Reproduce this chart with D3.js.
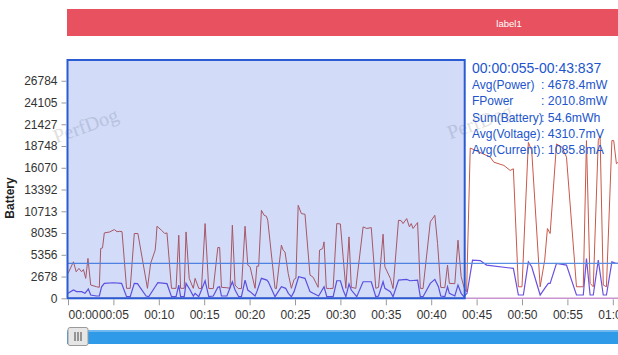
<!DOCTYPE html>
<html><head><meta charset="utf-8">
<script src="https://cdn.jsdelivr.net/npm/d3@7"></script>
<style>
html,body{margin:0;padding:0;background:#fff;}
svg{display:block;font-family:"Liberation Sans",Arial,Helvetica,sans-serif;}
</style></head>
<body>
<svg id="chart" width="618" height="355"></svg>
<script>
// ---- data ----
const yTickLabels = ["0","2678","5356","8035","10713","13392","16070","18748","21427","24105","26784"];
const yStep = 2678.4;
const yMax = 29462.4;
const xTickSeconds = [0,5,10,15,20,25,30,35,40,45,50,55,60];
const xTickLabels = ["00:00","00:05","00:10","00:15","00:20","00:25","00:30","00:35","00:40","00:45","00:50","00:55","01:00"];
const avgValue = 4310;

const powerTime = [0,0.6,0.9,1.2,1.5,1.7,1.95,2.2,2.5,3.15,3.45,3.6,3.8,4.0,4.6,5.1,5.4,5.7,5.95,6.45,6.85,7.3,7.7,8.75,9.1,9.6,9.7,9.8,10.3,10.65,10.9,11.4,11.9,12.2,12.4,12.8,13.0,13.35,13.8,14.0,14.4,14.7,15.1,15.5,16.0,16.5,16.7,16.9,17.5,17.85,18.1,18.4,18.75,19.1,19.5,19.8,20.05,20.6,20.8,21.0,21.3,21.6,21.85,22.0,22.8,22.95,23.5,23.7,23.9,24.25,24.6,24.9,25.1,25.35,25.7,26.1,26.65,27.0,27.55,27.7,28.05,28.2,28.45,28.8,29.2,29.6,30.0,30.3,30.6,30.95,31.2,31.7,32.5,32.9,33.4,33.9,34.2,34.7,34.9,35.5,35.8,36.4,36.7,36.9,37.3,37.6,37.8,38.0,38.5,38.8,39.1,39.9,40.4,40.7,41.05,41.5,41.8,42.0,42.6,42.95,43.3,43.65,43.9,44.3,44.9,46.5,46.9,48.0,48.7,49.05,49.6,50.0,50.7,51.07,52.0,52.5,52.8,53.1,53.8,54.4,54.9,56.0,56.75,57.1,57.5,57.85,58.4,58.6,58.95,59.3,59.9,60.1,60.4,60.8];
const powerValue = [3068,4490,3265,3680,3265,3550,2454,4908,1632,1423,1350,6135,6200,8050,8170,8466,8200,8250,8200,1227,1227,7975,7975,1227,4294,5926,7153,8870,8380,7975,8050,1227,1227,7767,1227,1227,8170,2454,1227,2454,1227,1200,9200,1200,1200,6258,6258,1350,1300,1227,9000,1632,1200,1200,8870,4086,3880,1227,3960,3960,10834,10220,10100,9607,1227,1200,6540,5926,5700,3068,1227,2330,2454,11450,10430,10350,2860,2590,1350,5926,6130,6950,1227,1200,1227,9200,9150,5100,1227,7560,1350,1227,8790,8600,8700,1227,1350,7890,3880,2454,1200,9607,9550,9200,9816,8800,9200,8600,9325,1227,1200,9400,10220,6750,1350,1300,4086,1840,1800,7153,2660,1227,800,18500,18200,17380,16760,16360,15740,15950,1420,1420,19200,18200,1420,4700,8590,7975,19000,18600,17380,1420,1420,19420,1840,1420,19420,20000,1630,1420,19420,19420,16560,17000];

const currentTime = [0,0.6,0.95,1.5,1.87,2.24,2.5,3.15,3.45,3.7,4.0,5.0,5.9,6.45,6.85,7.3,7.65,8.6,8.9,9.6,9.9,10.9,11.4,11.9,12.2,12.4,12.8,13.0,13.45,13.8,14.0,14.4,15.1,15.5,16.0,16.5,16.7,16.9,17.5,18.1,18.4,18.8,19.1,19.5,19.8,20.05,20.6,20.8,21.3,21.9,22.06,22.8,23.5,23.97,24.27,24.6,24.9,25.4,26.1,26.65,27.0,27.6,28.2,28.5,28.9,29.2,29.6,30.0,30.3,30.6,30.95,31.2,31.8,32.5,33.4,33.9,34.2,34.7,34.9,35.5,35.8,36.4,37.3,37.66,38.5,38.8,39.1,39.9,40.4,40.8,41.05,41.5,41.8,42.0,42.6,42.95,43.3,43.6,43.95,44.55,45.4,46.1,49.05,49.6,50.15,50.7,51.07,52.0,52.5,52.9,53.1,53.8,54.9,56.0,56.75,57.1,57.5,57.85,58.4,58.95,59.3,59.9,60.4,60.8];
const currentValue = [613,1018,818,818,613,1140,405,282,282,1420,1840,1915,1840,200,200,1840,1800,282,200,1420,1915,1800,200,200,1632,200,200,1840,1018,282,613,200,2160,200,282,1350,1420,282,282,2040,1018,200,200,2245,1018,818,282,818,2454,2245,2040,200,1420,1227,613,200,818,2650,2454,818,613,282,1420,200,200,200,2160,2160,1018,200,1750,1018,200,2040,2040,200,282,2040,1227,818,200,2245,2330,2160,2245,200,200,1840,2330,1420,282,200,1420,613,282,1632,613,200,613,4700,4650,4090,3680,405,405,4490,3880,405,1227,1840,1840,4294,4090,405,405,4900,405,405,4700,405,405,4490,4290,4300];

const baseTime = [0,61];
const baseValue = [0,0];

const selection = [0.0, 43.8];
const legendHeader = "00:00:055-00:43:837";
const legendNames = ["Avg(Power)","FPower","Sum(Battery)","Avg(Voltage)","Avg(Current)"];
const legendValues = [": 4678.4mW",": 2010.8mW",": 54.6mWh",": 4310.7mV",": 1085.8mA"];
const bandLabel = "label1";

// ---- layout ----
const svg = d3.select("#chart");
const L = 67, R = 618, T = 59, B = 298.3;
const x = d3.scaleLinear().domain([0, 61]).range([68, 68 + 61 * 9.08]);
const y = d3.scaleLinear().domain([0, yMax]).range([B, T]);

// top band
svg.append("rect").attr("x", L).attr("y", 9).attr("width", R - L).attr("height", 27).attr("fill", "#e8515f");
svg.append("text").attr("x", 509).attr("y", 27).attr("text-anchor", "middle")
  .attr("fill", "#fff").attr("font-size", "9.5px").text(bandLabel);

// clip
svg.append("defs").append("clipPath").attr("id", "plot")
  .append("rect").attr("x", L).attr("y", T - 2).attr("width", R - L).attr("height", B - T + 4);

const g = svg.append("g").attr("clip-path", "url(#plot)");
const line = d3.line().x(d => x(d[0])).y(d => y(d[1]));

g.append("path").datum(d3.zip(baseTime, baseValue)).attr("d", line)
  .attr("fill", "none").attr("stroke", "#c994cf").attr("stroke-width", 1.5);
g.append("path").datum(d3.zip(powerTime, powerValue)).attr("d", line)
  .attr("fill", "none").attr("stroke", "#c9584a").attr("stroke-width", 1);
g.append("path").datum(d3.zip(currentTime, currentValue)).attr("d", line)
  .attr("fill", "none").attr("stroke", "#6a4fe0").attr("stroke-width", 1.2);
g.append("line").attr("x1", L).attr("x2", R).attr("y1", y(avgValue)).attr("y2", y(avgValue))
  .attr("stroke", "#5a8ee2").attr("stroke-width", 1.2);

// watermarks
[[88, 132], [482, 128]].forEach(p => {
  svg.append("text").attr("transform", `translate(${p[0]},${p[1]}) rotate(-20)`)
    .attr("text-anchor", "middle").attr("font-family", "Liberation Serif, serif")
    .attr("font-size", "20px").attr("fill", "#bbb").attr("opacity", 0.45).text("PerfDog");
});

// selection overlay
svg.append("rect").attr("x", x(selection[0]) - 0.5).attr("y", T + 1)
  .attr("width", x(selection[1]) - x(selection[0]) - 0.5).attr("height", B - T - 1)
  .attr("fill", "rgba(30,80,220,0.2)").attr("stroke", "#2a5bd0").attr("stroke-width", 2);

// y axis
const yTicks = yTickLabels.map((t, i) => i * yStep);
const yAxis = d3.axisLeft(y).tickValues(yTicks).tickFormat((d, i) => yTickLabels[i]).tickSize(5).tickPadding(4);
const ya = svg.append("g").attr("transform", `translate(${L - 0.5},0)`).call(yAxis);
ya.select(".domain").remove();
ya.selectAll(".tick line").attr("stroke", "#999");
ya.selectAll("text").attr("font-size", "12px").attr("fill", "#333").attr("font-family", "Liberation Sans, Arial, sans-serif");

svg.append("text").attr("transform", "translate(14,198) rotate(-90)").attr("text-anchor", "middle")
  .attr("font-weight", "bold").attr("font-size", "12px").attr("fill", "#222").text("Battery");

// x axis
const xAxis = d3.axisBottom(x).tickValues(xTickSeconds).tickFormat((d, i) => xTickLabels[i]).tickSize(6).tickPadding(5);
const xa = svg.append("g").attr("transform", `translate(0,${B + 1})`).call(xAxis);
xa.select(".domain").remove();
xa.selectAll(".tick line").attr("stroke", "#999");
xa.selectAll("text").attr("font-size", "12px").attr("fill", "#333").attr("font-family", "Liberation Sans, Arial, sans-serif");
xa.selectAll(".tick").filter((d, i) => i === 0).select("text").attr("text-anchor", "start");

// legend
const lg = svg.append("g").attr("fill", "#2255cc");
lg.append("text").attr("x", 472).attr("y", 73).attr("font-size", "14px").text(legendHeader);
legendNames.forEach((n, i) => {
  const yy = 89 + i * 16.3;
  lg.append("text").attr("x", 472).attr("y", yy).attr("font-size", "12px").text(n);
  lg.append("text").attr("x", 541).attr("y", yy).attr("font-size", "12.3px").text(legendValues[i]);
});

// scrollbar
const sb = svg.append("g");
sb.append("rect").attr("x", L).attr("y", 330).attr("width", R - L).attr("height", 14).attr("fill", "#2f9ae8");
sb.append("rect").attr("x", L).attr("y", 330).attr("width", R - L).attr("height", 2).attr("fill", "#6fb8ef");
sb.append("rect").attr("x", 68).attr("y", 327.5).attr("width", 20).attr("height", 18).attr("rx", 2)
  .attr("fill", "#e6e6e6").attr("stroke", "#9a9a9a");
[75, 78, 81].forEach(xx => sb.append("line").attr("x1", xx).attr("x2", xx).attr("y1", 332).attr("y2", 341)
  .attr("stroke", "#444").attr("stroke-width", 1));
</script>
</body></html>
